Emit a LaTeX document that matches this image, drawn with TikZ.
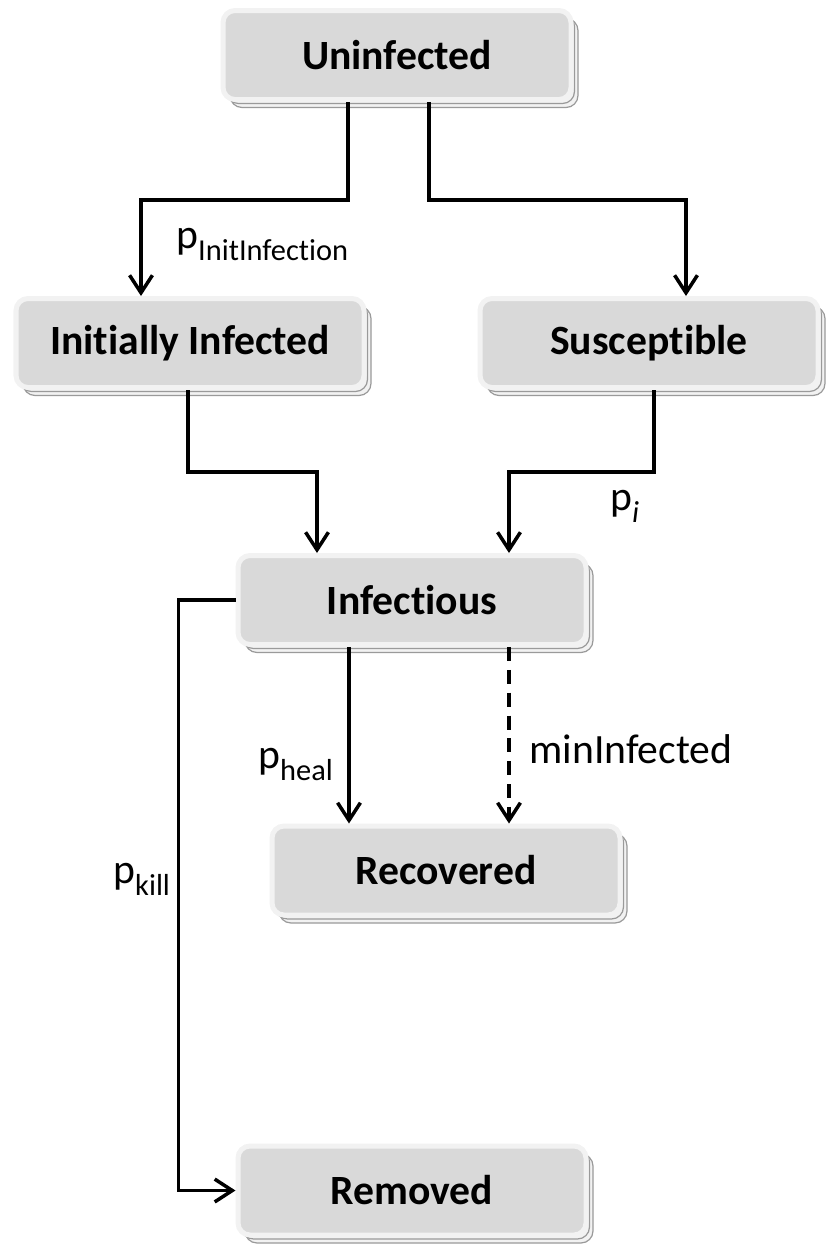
\documentclass[tikz,border=0pt]{standalone}
\usepackage{fontspec}
\setmainfont{Carlito}[Ligatures={NoCommon}]
\usetikzlibrary{arrows.meta}
\usetikzlibrary{calc}
\usetikzlibrary{shadows}

\definecolor{boxgray}{HTML}{D9D9D9}
\definecolor{boxrim}{HTML}{F2F2F2}
\definecolor{shadowline}{HTML}{9A9A9A}

\newcommand{\psub}[1]{p\raisebox{-0.3em}{\fontsize{17.3}{20}\selectfont #1}}

\tikzset{
  state/.style={rounded corners=0.24cm, fill=boxgray, draw=boxrim, line width=0.1cm,
    minimum width=6.96cm, minimum height=1.78cm, inner sep=0pt,
    font=\fontsize{23.7}{28}\selectfont\bfseries,
    double copy shadow={shadow xshift=0.07cm, shadow yshift=-0.08cm, fill=boxrim, draw=shadowline, line width=0.7pt}},
  flow/.style={line width=2.2pt, -{Straight Barb[length=10pt,width=13pt,line width=2pt]}},
  lbl/.style={anchor=base west, inner sep=0pt, font=\fontsize{23.7}{28}\selectfont}
}

\begin{document}
\begin{tikzpicture}
    \useasboundingbox (0,0) rectangle (16.5,-24.9);

    \node[state] (uninf) at (7.94,-1.10) {Uninfected};
    \node[state] (initinf) at (3.80,-6.86) {Initially Infected};
    \node[state, minimum width=6.76cm] (suscep) at (12.98,-6.86) {Susceptible};
    \node[state] (infect) at (8.24,-12.00) {Infectious};
    \node[state] (recov) at (8.92,-17.41) {Recovered};
    \node[state] (remov) at (8.24,-23.81) {Removed};

    \draw[flow] ([xshift=-0.98cm]uninf.south) -- ++(0,-1.96) -| ([xshift=-0.98cm]initinf.north);
    \draw[flow] ([xshift=0.64cm]uninf.south) -- ++(0,-1.96) -| ([xshift=0.74cm]suscep.north);
    \draw[flow] ([xshift=-0.04cm]initinf.south) -- ++(0,-1.64) -| ([xshift=-1.9cm]infect.north);
    \draw[flow] ([xshift=0.1cm]suscep.south) -- ++(0,-1.64) -| ([xshift=1.94cm]infect.north);
    \draw[flow] (infect.west) -- ++(-1.14,0) |- (remov.west);
    \draw[flow] ([xshift=-1.26cm]infect.south) -- ([xshift=-1.26cm]infect.south |- recov.north);
    \draw[flow, dash pattern=on 8pt off 5pt] ([xshift=1.94cm]infect.south) -- ([xshift=1.94cm]infect.south |- recov.north);

    \node[lbl] (lblinit) at (3.52,-4.96) {\psub{InitInfection}};
    \node[lbl] (lblpi) at (12.2,-10.2) {\psub{\itshape i}};
    \node[lbl] (lblheal) at (5.16,-15.36) {\psub{heal}};
    \node[lbl] (lblmin) at (10.58,-15.26) {minInfected};
    \node[lbl] (lblkill) at (2.26,-17.66) {\psub{kill}};
\end{tikzpicture}
\end{document}
